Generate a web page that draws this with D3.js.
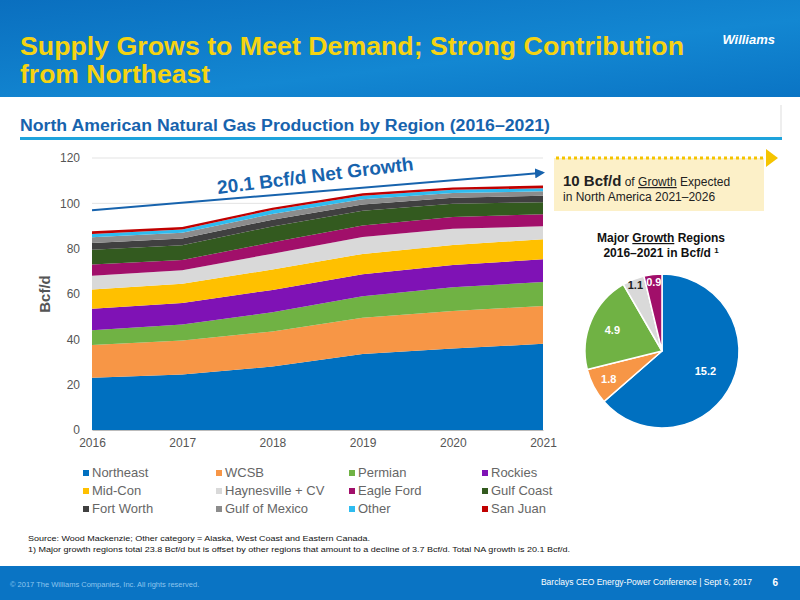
<!DOCTYPE html>
<html><head><meta charset="utf-8">
<script src="https://cdn.jsdelivr.net/npm/d3@7"></script>
<style>body{margin:0;}svg{display:block;font-family:"Liberation Sans",Arial,sans-serif;}</style>
</head><body><div id="chart"></div>
<script>
const years = [2016, 2017, 2018, 2019, 2020, 2021];
const regions = ["Northeast","WCSB","Permian","Rockies","Mid-Con","Haynesville + CV","Eagle Ford","Gulf Coast","Fort Worth","Gulf of Mexico","Other","San Juan"];
const regionColors = ["#0070c0","#f79646","#70b244","#7f12b5","#ffc000","#d9d9d9","#a10f6a","#335a1f","#404040","#8c8c8c","#2ebcf0","#c00000"];
const northeast = [23, 24.5, 28, 33.5, 36, 38];
const wcsb      = [14.5, 15, 15.5, 16, 16.5, 16.7];
const permian   = [6.5, 7, 8.5, 9.5, 10.5, 10.6];
const rockies   = [9.5, 9.5, 9.8, 9.7, 9.8, 10];
const midCon    = [8.5, 8.5, 9, 9, 8.8, 8.9];
const haynes    = [6, 6, 7, 7.5, 7.2, 5.7];
const eagleFord = [5, 4.5, 5, 5, 5.2, 5.3];
const gulfCoast = [6.5, 6.5, 7, 6.5, 5.8, 5.3];
const fortWorth = [3, 3, 3, 2.8, 2.7, 2.8];
const gulfMex   = [2.5, 2.5, 2.5, 2.3, 2.1, 2];
const other     = [1.5, 1.5, 1.8, 1.6, 1.4, 1.3];
const sanJuan   = [1.2, 1.1, 1, 1, 1, 1.3];
const series = [northeast,wcsb,permian,rockies,midCon,haynes,eagleFord,gulfCoast,fortWorth,gulfMex,other,sanJuan];
const yTicks = [0, 20, 40, 60, 80, 100, 120];
const pieLabels = ["Northeast","WCSB","Permian","Haynesville + CV","Eagle Ford"];
const pieValues = [15.2, 1.8, 4.9, 1.1, 0.9];
const pieColors = ["#0070c0","#f79646","#70b244","#d9d9d9","#a10f6a"];
const growthLine = [{year: 2016, value: 97}, {year: 2021, value: 113.5}];

const svg = d3.select("#chart").append("svg").attr("width", 800).attr("height", 600);

// header
const grad = svg.append("defs").append("linearGradient").attr("id", "hdr").attr("x1", 0).attr("x2", 1).attr("y1", 0).attr("y2", 1);
grad.append("stop").attr("offset", "0%").attr("stop-color", "#0a6fbf");
grad.append("stop").attr("offset", "60%").attr("stop-color", "#1387d2");
grad.append("stop").attr("offset", "100%").attr("stop-color", "#0a74c4");
svg.append("rect").attr("width", 800).attr("height", 97).attr("fill", "url(#hdr)");
svg.append("text").attr("x", 20).attr("y", 55).attr("fill", "#f5d312").style("font-size", "26px").style("font-weight", "bold")
  .attr("textLength", 664).attr("lengthAdjust", "spacingAndGlyphs").text("Supply Grows to Meet Demand; Strong Contribution");
svg.append("text").attr("x", 20).attr("y", 83).attr("fill", "#f5d312").style("font-size", "26px").style("font-weight", "bold")
  .attr("textLength", 190).attr("lengthAdjust", "spacingAndGlyphs").text("from Northeast");
svg.append("text").attr("x", 775).attr("y", 44).attr("text-anchor", "end").attr("fill", "#fff").style("font-size", "13px").style("font-weight", "bold").style("font-style", "italic").text("Williams");

// subtitle
svg.append("text").attr("x", 20).attr("y", 131).attr("fill", "#1763ad").style("font-size", "16px").style("font-weight", "bold")
  .attr("textLength", 530).attr("lengthAdjust", "spacingAndGlyphs").text("North American Natural Gas Production by Region (2016–2021)");
svg.append("rect").attr("x", 20).attr("y", 137).attr("width", 762).attr("height", 3).attr("fill", "#1ea3dc");
svg.append("line").attr("x1", 781).attr("x2", 781).attr("y1", 105).attr("y2", 137).attr("stroke", "#ddd");

// area chart
const x = d3.scaleLinear().domain([2016, 2021]).range([92, 543]);
const y = d3.scaleLinear().domain([0, 120]).range([430, 158]);
const table = years.map((yr, i) => {
  const row = {year: yr};
  regions.forEach((r, j) => row[r] = series[j][i]);
  return row;
});
const stacked = d3.stack().keys(regions)(table);

svg.append("g").selectAll("line").data(yTicks.slice(1)).join("line")
  .attr("x1", 92).attr("x2", 543).attr("y1", d => y(d)).attr("y2", d => y(d))
  .attr("stroke", "#e3e3e3");

const area = d3.area().x(d => x(d.data.year)).y0(d => y(d[0])).y1(d => y(d[1]));
svg.append("g").selectAll("path").data(stacked).join("path")
  .attr("fill", (d, i) => regionColors[i]).attr("d", area);

const yAxis = svg.append("g").attr("transform", "translate(92,0)")
  .call(d3.axisLeft(y).tickValues(yTicks).tickSize(0).tickPadding(12));
yAxis.select(".domain").remove();
yAxis.selectAll("text").style("font-size", "12px").attr("fill", "#555");

const xAxis = svg.append("g").attr("transform", "translate(0,430)")
  .call(d3.axisBottom(x).tickValues(years).tickFormat(d3.format("d")).tickSize(0).tickPadding(8));
xAxis.select(".domain").attr("stroke", "#bbb");
xAxis.selectAll("text").style("font-size", "12px").attr("fill", "#555");

svg.append("text").attr("transform", "translate(50,294) rotate(-90)").attr("text-anchor", "middle")
  .attr("fill", "#555").style("font-size", "15px").style("font-weight", "bold").text("Bcf/d");

// growth arrow
svg.append("defs").append("marker").attr("id", "arr").attr("viewBox", "0 0 10 10").attr("refX", 8).attr("refY", 5)
  .attr("markerWidth", 5).attr("markerHeight", 5).attr("orient", "auto")
  .append("path").attr("d", "M0,0L10,5L0,10z").attr("fill", "#1763ad");
svg.append("line")
  .attr("x1", x(growthLine[0].year)).attr("y1", y(growthLine[0].value))
  .attr("x2", x(growthLine[1].year)).attr("y2", y(growthLine[1].value))
  .attr("stroke", "#1763ad").attr("stroke-width", 2).attr("marker-end", "url(#arr)");
svg.append("text").attr("transform", "translate(316,182) rotate(-7)").attr("text-anchor", "middle")
  .attr("fill", "#1763ad").style("font-size", "19px").style("font-weight", "bold").text("20.1 Bcf/d Net Growth");

// legend
const lg = svg.append("g").selectAll("g").data(regions).join("g")
  .attr("transform", (d, i) => `translate(${83 + (i % 4) * 133},${477 + Math.floor(i / 4) * 18})`);
lg.append("rect").attr("y", -7).attr("width", 6).attr("height", 6).attr("fill", (d, i) => regionColors[i]);
lg.append("text").attr("x", 9).attr("fill", "#666").style("font-size", "13px").text(d => d);

// notes
svg.append("text").attr("x", 28).attr("y", 541).attr("fill", "#111").style("font-size", "8px")
  .attr("textLength", 342).attr("lengthAdjust", "spacingAndGlyphs").text("Source: Wood Mackenzie; Other category = Alaska, West Coast and Eastern Canada.");
svg.append("text").attr("x", 28).attr("y", 552).attr("fill", "#111").style("font-size", "8px")
  .attr("textLength", 542).attr("lengthAdjust", "spacingAndGlyphs").text("1) Major growth regions total 23.8 Bcf/d but is offset by other regions that amount to a decline of 3.7 Bcf/d. Total NA growth is 20.1 Bcf/d.");

// footer
svg.append("rect").attr("y", 566).attr("width", 800).attr("height", 34).attr("fill", "#0a74c4");
svg.append("text").attr("x", 10).attr("y", 587).attr("fill", "#8cc4ee").style("font-size", "7.5px").text("© 2017 The Williams Companies, Inc. All rights reserved.");
svg.append("text").attr("x", 752).attr("y", 585).attr("text-anchor", "end").attr("fill", "#fff").style("font-size", "8.5px").text("Barclays CEO Energy-Power Conference | Sept 6, 2017");
svg.append("text").attr("x", 778).attr("y", 586).attr("text-anchor", "end").attr("fill", "#fff").style("font-size", "10px").style("font-weight", "bold").text("6");

// callout box
svg.append("rect").attr("x", 554).attr("y", 158).attr("width", 210).attr("height", 53).attr("fill", "#fcf0c8");
svg.append("line").attr("x1", 556).attr("x2", 766).attr("y1", 158).attr("y2", 158)
  .attr("stroke", "#f5c400").attr("stroke-width", 3).attr("stroke-dasharray", "3,3");
svg.append("path").attr("d", "M766,149L778,158L766,167z").attr("fill", "#f5c400");
const cb = svg.append("text").attr("x", 563).attr("y", 186).attr("fill", "#222");
cb.append("tspan").style("font-size", "15px").style("font-weight", "bold").text("10 Bcf/d");
cb.append("tspan").style("font-size", "12px").text(" of ");
cb.append("tspan").style("font-size", "12px").attr("text-decoration", "underline").text("Growth");
cb.append("tspan").style("font-size", "12px").text(" Expected");
svg.append("text").attr("x", 563).attr("y", 201).attr("fill", "#222").style("font-size", "12px").text("in North America 2021–2026");

// pie
const pt = svg.append("text").attr("x", 661).attr("y", 242).attr("text-anchor", "middle").attr("fill", "#111").style("font-size", "12px").style("font-weight", "bold");
pt.append("tspan").text("Major ");
pt.append("tspan").attr("text-decoration", "underline").text("Growth");
pt.append("tspan").text(" Regions");
const pt2 = svg.append("text").attr("x", 661).attr("y", 257).attr("text-anchor", "middle").attr("fill", "#111").style("font-size", "12px").style("font-weight", "bold");
pt2.append("tspan").text("2016–2021 in Bcf/d ");
pt2.append("tspan").style("font-size", "8px").attr("dy", -4).text("1");

const pie = d3.pie().sort(null).value(d => d)(pieValues);
const r = 77;
const arc = d3.arc().innerRadius(0).outerRadius(r);
const pg = svg.append("g").attr("transform", "translate(662,351)");
pg.selectAll("path").data(pie).join("path").attr("d", arc)
  .attr("fill", (d, i) => pieColors[i]).attr("stroke", "#fff").attr("stroke-width", 1.5);
pg.selectAll("text.v").data(pie).join("text").attr("class", "v")
  .attr("transform", (d, i) => {
    const a = (d.startAngle + d.endAngle) / 2;
    const rr = r * [0.62, 0.78, 0.7, 0.93, 0.9][i];
    return `translate(${Math.sin(a) * rr},${-Math.cos(a) * rr + 4})`;
  })
  .attr("text-anchor", "middle")
  .attr("fill", (d, i) => i === 3 ? "#222" : "#fff")
  .style("font-size", "11px").style("font-weight", "bold")
  .text(d => d.value);
</script></body></html>
